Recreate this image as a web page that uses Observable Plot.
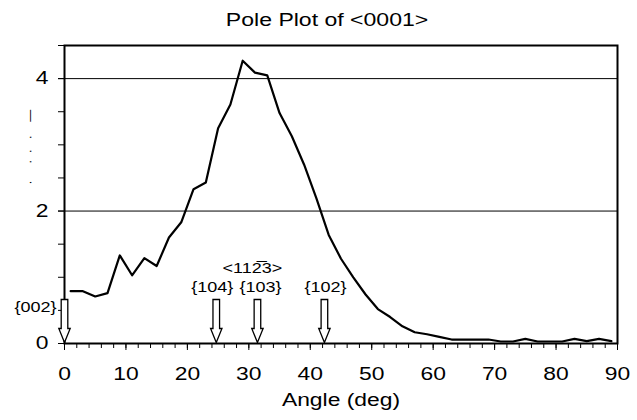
<!DOCTYPE html>
<html>
<head>
<meta charset="utf-8">
<script src="https://cdn.jsdelivr.net/npm/d3@7"></script>
<script src="https://cdn.jsdelivr.net/npm/@observablehq/plot@0.6"></script>
<style>
  body { margin: 0; background: #fff; font-family: "Liberation Sans", Arial, sans-serif; }
  #title { width: 553px; margin-left: 51px; height: 34px; line-height: 40px; text-align: center; font-size: 18px; color: #000; }
  #title span { display: inline-block; transform: scaleX(1.28); }
</style>
</head>
<body>
<div id="title"><span>Pole Plot of &lt;0001&gt;</span></div>
<div id="chart"></div>
<script>
// Measured intensity along the pole plot
const angles = [1,3,5,7,9,11,13,15,17,19,21,23,25,27,29,31,33,35,37,39,41,43,45,47,49,51,53,55,57,59,61,63,65,67,69,71,73,75,77,79,81,83,85,87,89];
const intensity = [0.79,0.79,0.71,0.76,1.33,1.03,1.29,1.17,1.60,1.83,2.33,2.43,3.25,3.61,4.27,4.09,4.05,3.48,3.13,2.70,2.19,1.64,1.28,1.00,0.74,0.52,0.40,0.26,0.17,0.14,0.10,0.06,0.06,0.06,0.06,0.03,0.03,0.07,0.03,0.03,0.03,0.07,0.035,0.07,0.035];

// Reflection markers
const zeroLabel = "{002}";
const zeroAngle = [0];
const planeLabels = ["{104}", "{103}", "{102}"];
const planeAngles = [24.7, 31.4, 42.3];
const directionLabel = "<112\u03053>";

// Axis ticks
const xMajorTicks = [0,10,20,30,40,50,60,70,80,90];
const xMinorTicks = [0,2,4,6,8,10,12,14,16,18,20,22,24,26,28,30,32,34,36,38,40,42,44,46,48,50,52,54,56,58,60,62,64,66,68,70,72,74,76,78,80,82,84,86,88,90];
const yMajorTicks = [0,2,4];
const yMinorTicks = [0,0.5,1,1.5,2,2.5,3,3.5,4,4.5];
const gridValues = [2,4];
const xLabel = "Angle (deg)";
const yLabel = "\u00B7     \u00B7  \u00B7   \u00B7    \u2014";

const data = angles.map((a, i) => ({angle: a, value: intensity[i]}));
const arrows = [...zeroAngle, ...planeAngles].map(a => ({angle: a}));
const labelShift = [-4, 3, 1];

const arrowSymbol = {
  draw(ctx) {
    ctx.moveTo(-3.3, -43);
    ctx.lineTo(3.3, -43);
    ctx.lineTo(3.3, -14);
    ctx.lineTo(5.7, -14);
    ctx.lineTo(0, 0);
    ctx.lineTo(-5.7, -14);
    ctx.lineTo(-3.3, -14);
    ctx.closePath();
  }
};

const font = "Liberation Sans, Arial, sans-serif";

const chart = Plot.plot({
  width: 637,
  height: 386,
  marginLeft: 64,
  marginRight: 20,
  marginTop: 11,
  marginBottom: 77,
  style: {fontFamily: font, background: "white", color: "black"},
  x: {domain: [0, 90], axis: null},
  y: {domain: [0, 4.5], axis: null},
  marks: [
    Plot.ruleY(gridValues, {stroke: "black", strokeWidth: 1}),
    Plot.axisX(xMinorTicks, {tickSize: 5, tickFormat: () => "", label: null, stroke: "black", strokeWidth: 1}),
    Plot.axisX(xMajorTicks, {tickSize: 7, tickPadding: 17, tickFormat: d3.format("d"), fontSize: 18, label: null, stroke: "black", strokeWidth: 1, fill: "black"}),
    Plot.axisY(yMinorTicks, {tickSize: 6, tickFormat: () => "", label: null, stroke: "black", strokeWidth: 1}),
    Plot.axisY(yMajorTicks, {tickSize: 6, tickPadding: 10, tickFormat: d3.format("d"), fontSize: 18, label: null, stroke: "black", strokeWidth: 1, fill: "black"}),
    Plot.line(data, {x: "angle", y: "value", stroke: "black", strokeWidth: 2.2}),
    Plot.frame({stroke: "black", strokeWidth: 2}),
    Plot.dot(arrows, {x: "angle", y: 0, dy: -1, symbol: arrowSymbol, r: 5, fill: "white", stroke: "black", strokeWidth: 1.3}),
    ...planeLabels.map((label, i) =>
      Plot.text([label], {x: planeAngles[i], y: 0, dx: labelShift[i], dy: -56, text: d => d, fontSize: 15, fill: "black"})),
    Plot.text([directionLabel], {x: planeAngles[1], y: 0, dx: -5, dy: -75, text: d => d, fontSize: 15, fill: "black"}),
    Plot.text([zeroLabel], {x: zeroAngle[0], y: 0, dx: -8, dy: -36, text: d => d, textAnchor: "end", fontSize: 15, fill: "black"}),
    Plot.text([xLabel], {frameAnchor: "bottom", dy: 62, text: d => d, fontSize: 18, fill: "black"}),
    Plot.text([yLabel], {frameAnchor: "left", dx: -34, dy: -10, rotate: -90, textAnchor: "start", text: d => d, fontSize: 12, fill: "black"})
  ]
});
document.getElementById("chart").appendChild(chart);

// Widen glyphs to match the reference's horizontally stretched lettering
d3.select(chart).selectAll("text").each(function() {
  const el = this;
  if (!el.textContent || !el.textContent.trim()) return;
  const fs = parseFloat(getComputedStyle(el).fontSize);
  if (fs < 14) return;
  const k = fs >= 17 ? 1.27 : 1.2;
  const len = el.getComputedTextLength();
  el.setAttribute("textLength", (len * k).toFixed(2));
  el.setAttribute("lengthAdjust", "spacingAndGlyphs");
});
</script>
</body>
</html>
